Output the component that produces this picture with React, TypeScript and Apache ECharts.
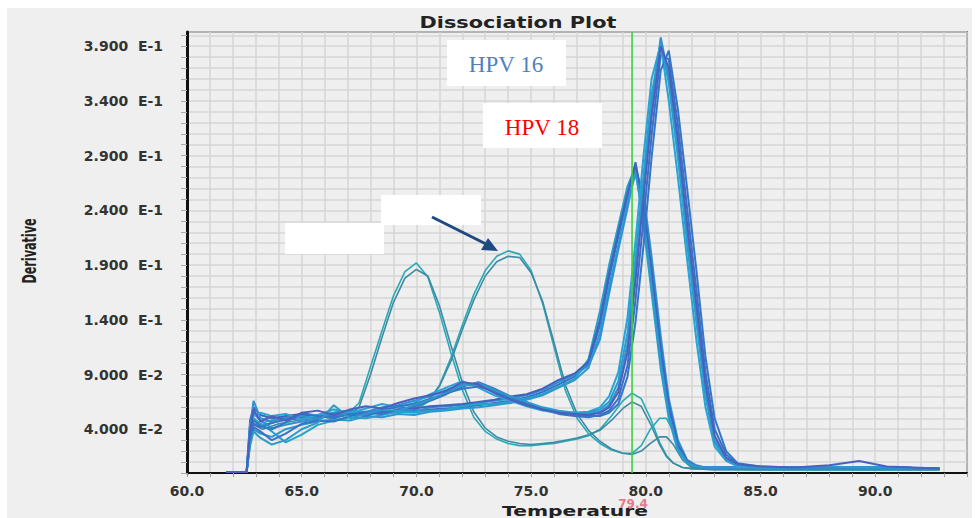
import React, { useEffect, useRef } from 'react';
import * as echarts from 'echarts';

// ---------- data ----------
const TITLE = 'Dissociation Plot';
const X_NAME = 'Temperature';
const Y_NAME = 'Derivative';
const MARKER_T = 79.4;
const Y_MAX = 0.403;
const LABEL_16 = 'HPV 16';
const LABEL_18 = 'HPV 18';
const X_TICK_LABELS = [60, 65, 70, 75, 80, 85, 90];

// temperature grid for the two big melt-peak groups
const T_MAIN = [
  61.7, 62.6, 62.75, 62.9, 63.2, 63.7, 64.3, 65.0,
  65.7, 66.4, 67.1, 67.8, 68.5, 69.2, 69.9, 70.6,
  71.3, 72.0, 72.7, 73.4, 74.1, 74.8, 75.5, 76.2,
  76.9, 77.5, 78.0, 78.4, 78.8, 79.2, 79.55, 79.9,
  80.25, 80.65, 81.0, 81.4, 81.8, 82.2, 82.6, 83.0,
  83.5, 84.0, 85.0, 86.5, 88.0, 89.3, 90.5, 92.8,
];

// HPV 16 group (peak ~80.6)
const HPV16_A = [
  0.001, 0.001, 0.040, 0.066, 0.050, 0.047, 0.050, 0.052,
  0.050, 0.055, 0.057, 0.056, 0.060, 0.062, 0.066, 0.070,
  0.076, 0.081, 0.080, 0.074, 0.068, 0.063, 0.059, 0.056,
  0.054, 0.054, 0.056, 0.062, 0.078, 0.118, 0.185, 0.262,
  0.335, 0.398, 0.362, 0.295, 0.218, 0.145, 0.075, 0.030,
  0.013, 0.007, 0.005, 0.005, 0.005, 0.005, 0.005, 0.004,
];
const HPV16_B = [
  0.001, 0.001, 0.030, 0.042, 0.038, 0.030, 0.036, 0.045,
  0.048, 0.047, 0.052, 0.055, 0.054, 0.058, 0.061, 0.066,
  0.072, 0.079, 0.083, 0.077, 0.070, 0.064, 0.058, 0.054,
  0.052, 0.051, 0.053, 0.057, 0.068, 0.098, 0.158, 0.232,
  0.308, 0.382, 0.378, 0.318, 0.242, 0.168, 0.092, 0.040,
  0.017, 0.008, 0.005, 0.005, 0.005, 0.005, 0.005, 0.004,
];
const HPV16_C = [
  0.001, 0.001, 0.045, 0.052, 0.055, 0.052, 0.054, 0.049,
  0.053, 0.058, 0.055, 0.059, 0.063, 0.060, 0.064, 0.072,
  0.078, 0.084, 0.078, 0.071, 0.066, 0.061, 0.057, 0.055,
  0.055, 0.056, 0.060, 0.070, 0.092, 0.142, 0.212, 0.290,
  0.360, 0.392, 0.340, 0.270, 0.195, 0.122, 0.060, 0.024,
  0.011, 0.006, 0.005, 0.005, 0.005, 0.005, 0.005, 0.004,
];
const HPV16_D = [
  0.001, 0.001, 0.035, 0.048, 0.043, 0.040, 0.046, 0.055,
  0.052, 0.050, 0.054, 0.052, 0.057, 0.061, 0.063, 0.068,
  0.073, 0.077, 0.079, 0.075, 0.069, 0.062, 0.058, 0.056,
  0.053, 0.052, 0.052, 0.055, 0.063, 0.088, 0.138, 0.208,
  0.288, 0.368, 0.386, 0.332, 0.260, 0.186, 0.106, 0.050,
  0.020, 0.009, 0.006, 0.005, 0.005, 0.005, 0.005, 0.004,
];
const HPV16_E = [
  0.001, 0.001, 0.025, 0.038, 0.032, 0.026, 0.030, 0.040,
  0.046, 0.062, 0.050, 0.054, 0.058, 0.057, 0.062, 0.067,
  0.074, 0.080, 0.082, 0.076, 0.070, 0.065, 0.060, 0.057,
  0.055, 0.055, 0.058, 0.065, 0.084, 0.128, 0.196, 0.272,
  0.345, 0.394, 0.356, 0.288, 0.210, 0.138, 0.070, 0.028,
  0.012, 0.007, 0.005, 0.005, 0.006, 0.005, 0.005, 0.004,
];
const HPV16_F = [
  0.001, 0.001, 0.038, 0.058, 0.047, 0.052, 0.048, 0.055,
  0.057, 0.053, 0.058, 0.061, 0.059, 0.064, 0.068, 0.071,
  0.075, 0.083, 0.081, 0.073, 0.067, 0.062, 0.058, 0.055,
  0.054, 0.053, 0.055, 0.060, 0.074, 0.110, 0.175, 0.252,
  0.325, 0.390, 0.370, 0.305, 0.228, 0.155, 0.082, 0.034,
  0.014, 0.008, 0.006, 0.005, 0.007, 0.011, 0.006, 0.004,
];

// HPV 18 group (peak ~79.55)
const HPV18_A = [
  0.001, 0.001, 0.030, 0.045, 0.042, 0.046, 0.049, 0.050,
  0.052, 0.051, 0.054, 0.053, 0.056, 0.055, 0.057, 0.058,
  0.059, 0.060, 0.062, 0.064, 0.066, 0.069, 0.074, 0.081,
  0.088, 0.100, 0.135, 0.178, 0.216, 0.252, 0.284, 0.240,
  0.180, 0.108, 0.058, 0.024, 0.010, 0.006, 0.005, 0.005,
  0.005, 0.005, 0.005, 0.005, 0.005, 0.005, 0.005, 0.004,
];
const HPV18_B = [
  0.001, 0.001, 0.042, 0.055, 0.048, 0.041, 0.044, 0.047,
  0.049, 0.054, 0.052, 0.056, 0.054, 0.058, 0.056, 0.060,
  0.061, 0.062, 0.064, 0.066, 0.068, 0.071, 0.076, 0.083,
  0.090, 0.098, 0.122, 0.164, 0.204, 0.242, 0.278, 0.255,
  0.198, 0.125, 0.068, 0.030, 0.012, 0.007, 0.005, 0.005,
  0.005, 0.005, 0.005, 0.005, 0.005, 0.005, 0.005, 0.004,
];
const HPV18_C = [
  0.001, 0.001, 0.035, 0.050, 0.045, 0.038, 0.028, 0.035,
  0.044, 0.048, 0.051, 0.050, 0.053, 0.056, 0.055, 0.057,
  0.058, 0.061, 0.063, 0.063, 0.065, 0.068, 0.072, 0.079,
  0.086, 0.104, 0.148, 0.190, 0.226, 0.262, 0.280, 0.225,
  0.165, 0.095, 0.050, 0.020, 0.009, 0.006, 0.005, 0.005,
  0.005, 0.005, 0.005, 0.005, 0.005, 0.005, 0.005, 0.004,
];
const HPV18_D = [
  0.001, 0.001, 0.048, 0.060, 0.053, 0.050, 0.052, 0.054,
  0.051, 0.055, 0.057, 0.055, 0.058, 0.060, 0.059, 0.061,
  0.062, 0.063, 0.065, 0.067, 0.070, 0.072, 0.077, 0.085,
  0.091, 0.102, 0.140, 0.183, 0.220, 0.256, 0.282, 0.246,
  0.186, 0.114, 0.062, 0.026, 0.011, 0.006, 0.005, 0.005,
  0.005, 0.005, 0.005, 0.005, 0.005, 0.005, 0.005, 0.004,
];
const HPV18_E = [
  0.001, 0.001, 0.028, 0.040, 0.036, 0.033, 0.040, 0.044,
  0.047, 0.049, 0.048, 0.052, 0.051, 0.054, 0.053, 0.056,
  0.057, 0.059, 0.060, 0.062, 0.064, 0.067, 0.071, 0.078,
  0.085, 0.096, 0.128, 0.170, 0.208, 0.246, 0.274, 0.232,
  0.172, 0.102, 0.054, 0.022, 0.010, 0.006, 0.005, 0.005,
  0.005, 0.005, 0.005, 0.005, 0.005, 0.005, 0.005, 0.004,
];

// temperature grid for the four thin single curves
const T_THIN = [
  61.7, 62.6, 62.75, 62.9, 63.3, 64.0, 64.8, 65.6,
  66.4, 67.0, 67.5, 68.0, 68.5, 69.0, 69.5, 70.0,
  70.5, 71.0, 71.5, 72.0, 72.5, 73.0, 73.5, 74.0,
  74.5, 75.0, 75.5, 76.0, 76.5, 77.0, 77.5, 78.0,
  78.5, 79.0, 79.4, 79.8, 80.2, 80.6, 80.9, 81.2,
  81.6, 82.0, 83.0, 85.0, 88.0, 92.8,
];
const PEAK70_A = [
  0.001, 0.001, 0.035, 0.050, 0.042, 0.048, 0.050, 0.052,
  0.050, 0.054, 0.064, 0.097, 0.130, 0.162, 0.184, 0.192,
  0.179, 0.147, 0.110, 0.076, 0.051, 0.038, 0.031, 0.027,
  0.025, 0.025, 0.026, 0.027, 0.029, 0.031, 0.034, 0.040,
  0.052, 0.066, 0.073, 0.068, 0.050, 0.028, 0.016, 0.009,
  0.005, 0.004, 0.003, 0.003, 0.003, 0.003,
];
const PEAK70_B = [
  0.001, 0.001, 0.030, 0.044, 0.040, 0.045, 0.048, 0.050,
  0.052, 0.053, 0.060, 0.090, 0.124, 0.156, 0.178, 0.186,
  0.180, 0.153, 0.117, 0.083, 0.056, 0.041, 0.033, 0.029,
  0.027, 0.026, 0.027, 0.028, 0.030, 0.032, 0.035, 0.039,
  0.048, 0.059, 0.065, 0.061, 0.045, 0.026, 0.015, 0.009,
  0.005, 0.004, 0.003, 0.003, 0.003, 0.003,
];
const PEAK74_A = [
  0.001, 0.001, 0.040, 0.055, 0.046, 0.050, 0.052, 0.053,
  0.055, 0.054, 0.056, 0.055, 0.057, 0.056, 0.058, 0.058,
  0.065, 0.080, 0.105, 0.135, 0.163, 0.185, 0.198, 0.203,
  0.200, 0.185, 0.155, 0.115, 0.075, 0.050, 0.036, 0.027,
  0.021, 0.018, 0.018, 0.025, 0.040, 0.050, 0.050, 0.038,
  0.015, 0.006, 0.004, 0.003, 0.003, 0.003,
];
const PEAK74_B = [
  0.001, 0.001, 0.033, 0.048, 0.044, 0.047, 0.050, 0.051,
  0.053, 0.055, 0.054, 0.056, 0.055, 0.057, 0.058, 0.060,
  0.066, 0.079, 0.102, 0.131, 0.158, 0.180, 0.193, 0.198,
  0.197, 0.183, 0.157, 0.119, 0.080, 0.054, 0.039, 0.029,
  0.022, 0.018, 0.017, 0.020, 0.027, 0.033, 0.033, 0.026,
  0.012, 0.005, 0.004, 0.003, 0.003, 0.003,
];

const HPV16_CURVES = [HPV16_A, HPV16_B, HPV16_C, HPV16_D, HPV16_E, HPV16_F];
const HPV18_CURVES = [HPV18_A, HPV18_B, HPV18_C, HPV18_D, HPV18_E];
const THIN_CURVES = [PEAK70_A, PEAK70_B, PEAK74_A, PEAK74_B];

const HPV16_COLORS = ['#2f8fd0', '#3b6fc8', '#2aa3d6', '#3478c4', '#2b9bc9', '#4a5fc0'];
const HPV18_COLORS = ['#3a6ec6', '#2e90cf', '#26a4c8', '#4262bf', '#2b98d0'];
const THIN_COLORS = ['#2aa9b4', '#3d8aa4', '#2aa9b4', '#3d8aa4'];

function zip(xs: number[], ys: number[]) {
  const n = Math.min(xs.length, ys.length);
  const out: number[][] = [];
  for (let i = 0; i < n; i++) out.push([xs[i], ys[i]]);
  return out;
}

export default function App() {
  const ref = useRef<HTMLDivElement>(null);

  useEffect(() => {
    if (!ref.current) return;
    const chart = echarts.init(ref.current, null, { renderer: 'svg' });

    const series: any[] = [];
    THIN_CURVES.forEach((c, i) => {
      series.push({
        type: 'line', data: zip(T_THIN, c), showSymbol: false, symbol: 'none',
        lineStyle: { color: THIN_COLORS[i], width: 1.6 }, z: 2,
      });
    });
    HPV18_CURVES.forEach((c, i) => {
      series.push({
        type: 'line', data: zip(T_MAIN, c), showSymbol: false, symbol: 'none',
        lineStyle: { color: HPV18_COLORS[i], width: 2 }, z: 3,
      });
    });
    HPV16_CURVES.forEach((c, i) => {
      series.push({
        type: 'line', data: zip(T_MAIN, c), showSymbol: false, symbol: 'none',
        lineStyle: { color: HPV16_COLORS[i], width: 2 }, z: 3,
      });
    });
    // marker line at the chosen temperature, drawn as a two-point series
    series.push({
      type: 'line', data: [[MARKER_T, 0], [MARKER_T, Y_MAX]], showSymbol: false, symbol: 'none',
      lineStyle: { color: '#3fcf3f', width: 1.6 }, z: 4, silent: true,
    });

    const fmtY = (v: number) => {
      const k = Math.round(v * 100);
      if (k % 5 !== 4) return '';
      const sp = '\u00a0\u00a0';
      if (v < 0.1) return (v * 100).toFixed(3) + sp + 'E-2';
      return (v * 10).toFixed(3) + sp + 'E-1';
    };

    const graphics: any[] = [
      {
        type: 'text', x: 518, y: 22, scaleX: 1.3, z: 50,
        style: { text: TITLE, font: 'bold 16px "DejaVu Sans"', fill: '#222', textAlign: 'center', textVerticalAlign: 'middle' },
      },
      {
        type: 'text', x: 575, y: 511, scaleX: 1.45, z: 50,
        style: { text: X_NAME, font: 'bold 14px "DejaVu Sans"', fill: '#222', textAlign: 'center', textVerticalAlign: 'middle' },
      },
      {
        type: 'text', x: 29, y: 251, rotation: Math.PI / 2, scaleX: 0.56, z: 50,
        style: { text: Y_NAME, font: 'bold 20px "DejaVu Sans"', fill: '#222', textAlign: 'center', textVerticalAlign: 'middle' },
      },
      { type: 'rect', shape: { x: 447, y: 40, width: 119, height: 46 }, style: { fill: '#ffffff' }, z: 50 },
      {
        type: 'text', x: 506, y: 64, z: 51,
        style: { text: LABEL_16, font: '23px "Liberation Serif"', fill: '#4f81bd', textAlign: 'center', textVerticalAlign: 'middle' },
      },
      { type: 'rect', shape: { x: 483, y: 103, width: 119, height: 45 }, style: { fill: '#ffffff' }, z: 50 },
      {
        type: 'text', x: 542, y: 127, z: 51,
        style: { text: LABEL_18, font: '23px "Liberation Serif"', fill: '#ff0000', textAlign: 'center', textVerticalAlign: 'middle' },
      },
      { type: 'rect', shape: { x: 285, y: 223, width: 99, height: 31 }, style: { fill: '#ffffff' }, z: 50 },
      { type: 'rect', shape: { x: 381, y: 195, width: 100, height: 30 }, style: { fill: '#ffffff' }, z: 50 },
      {
        type: 'line', shape: { x1: 432, y1: 217, x2: 486, y2: 244 }, z: 52,
        style: { stroke: '#1f4a80', lineWidth: 3 },
      },
      {
        type: 'polygon', shape: { points: [[498, 251], [481, 250], [488, 238]] }, z: 52,
        style: { fill: '#1f4a80' },
      },
    ];

    const option: any = {
      animation: false,
      backgroundColor: 'transparent',
      grid: {
        left: 187, right: 9, top: 32, bottom: 45, show: true,
        borderColor: '#1a1a1a', borderWidth: 1.5, backgroundColor: 'transparent',
      },
      xAxis: {
        type: 'value', min: 60, max: 94, interval: 1,
        axisLine: { show: true, lineStyle: { color: '#111', width: 2 } },
        axisTick: { show: true, length: 4, lineStyle: { color: '#999', width: 1 } },
        axisLabel: { show: false },
        splitLine: { show: true, lineStyle: { color: '#d6d6d6', width: 1.5 } },
      },
      yAxis: {
        type: 'value', min: 0, max: Y_MAX, interval: 0.01,
        axisLine: { show: true, lineStyle: { color: '#111', width: 3 } },
        axisTick: { show: true, length: 6, lineStyle: { color: '#aaa', width: 1 } },
        axisLabel: {
          formatter: fmtY, margin: 24, color: '#333', fontSize: 14, hideOverlap: false,
          fontFamily: 'DejaVu Sans', fontWeight: 'bold', showMaxLabel: false,
        },
        splitLine: { show: true, lineStyle: { color: '#d6d6d6', width: 1.5 } },
      },
      series,
      graphic: graphics,
    };

    chart.setOption(option);

    // x tick labels and the marker value, positioned through the x scale
    const extra: any[] = X_TICK_LABELS.map((t) => ({
      type: 'text',
      x: chart.convertToPixel({ xAxisIndex: 0 }, t) as number,
      y: 491, z: 51,
      style: { text: t.toFixed(1), font: 'bold 14px "DejaVu Sans"', fill: '#333', textAlign: 'center', textVerticalAlign: 'middle' },
    }));
    const px = chart.convertToPixel({ xAxisIndex: 0 }, MARKER_T) as number;
    extra.push({
      type: 'text', x: px + 1, y: 504, z: 51,
      style: { text: String(MARKER_T), font: 'bold 12px "DejaVu Sans"', fill: '#e8788a', textAlign: 'center', textVerticalAlign: 'middle' },
    });
    chart.setOption({ graphic: [...graphics, ...extra] });

    return () => chart.dispose();
  }, []);

  return (
    <div style={{ position: 'fixed', left: 0, top: 0, width: 976, height: 518, background: '#ffffff' }}>
      <div style={{ position: 'absolute', left: 7, top: 8, width: 965, height: 510, background: '#efefef' }} />
      <div ref={ref} style={{ position: 'absolute', left: 0, top: 0, width: 976, height: 518 }} />
    </div>
  );
}
